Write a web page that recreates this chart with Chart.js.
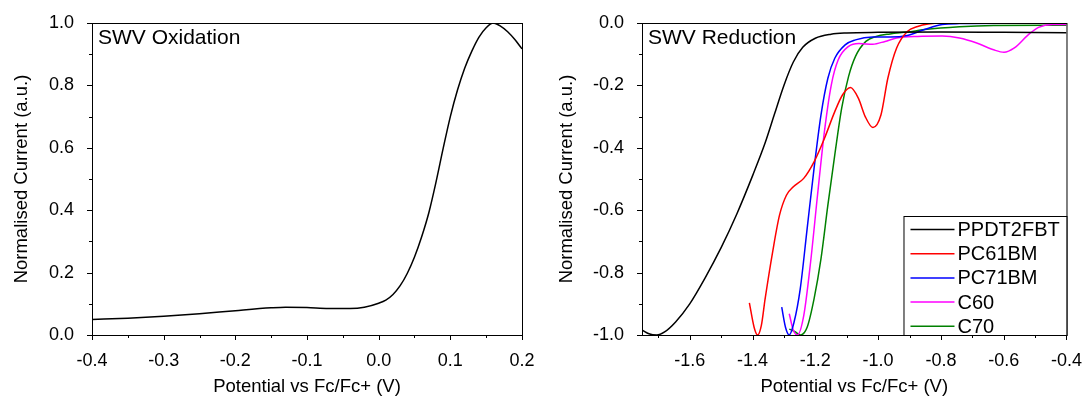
<!DOCTYPE html>
<html>
<head>
<meta charset="utf-8">
<script src="https://cdn.jsdelivr.net/npm/chart.js@4.4.1/dist/chart.umd.min.js"></script>
<style>
  html, body { margin: 0; padding: 0; background: #fff; }
  #wrap { position: relative; width: 1089px; height: 399px; }
  canvas { position: absolute; top: 0; }
  #oxChart { left: 0; }
  #redChart { left: 545px; }
</style>
</head>
<body>
<div id="wrap">
  <canvas id="oxChart" width="545" height="399"></canvas>
  <canvas id="redChart" width="544" height="399"></canvas>
</div>
<script>
// ---- oxidation (left panel) ----
const oxPotential = [-0.40, -0.35, -0.30, -0.25, -0.20, -0.15, -0.13, -0.10, -0.07, -0.04, -0.02, 0.00, 0.01, 0.02, 0.03, 0.04, 0.05, 0.06, 0.07, 0.08, 0.09, 0.10, 0.11, 0.12, 0.13, 0.14, 0.15, 0.16, 0.17, 0.18, 0.19, 0.20];
const oxCurrent = [0.050, 0.054, 0.060, 0.068, 0.078, 0.087, 0.089, 0.088, 0.085, 0.085, 0.089, 0.102, 0.112, 0.130, 0.158, 0.198, 0.250, 0.315, 0.392, 0.490, 0.598, 0.700, 0.785, 0.855, 0.910, 0.955, 0.985, 1.000, 0.990, 0.972, 0.947, 0.917];

// ---- reduction (right panel) ----
const ppdtPotential = [-1.75, -1.73, -1.705, -1.68, -1.645, -1.60, -1.55, -1.50, -1.45, -1.40, -1.36, -1.33, -1.30, -1.27, -1.24, -1.20, -1.15, -1.10, -1.00, -0.80, -0.60, -0.40];
const ppdtCurrent = [-0.985, -0.996, -1.0, -0.99, -0.958, -0.900, -0.815, -0.720, -0.612, -0.490, -0.385, -0.292, -0.200, -0.125, -0.078, -0.049, -0.036, -0.032, -0.030, -0.029, -0.030, -0.031];

const pc61Potential = [-1.41, -1.395, -1.384, -1.372, -1.36, -1.336, -1.314, -1.292, -1.27, -1.237, -1.204, -1.171, -1.138, -1.113, -1.088, -1.063, -1.041, -1.0165, -0.991, -0.969, -0.941, -0.907, -0.874, -0.841, -0.796, -0.70, -0.55, -0.40];
const pc61Current = [-0.897, -0.975, -1.0, -0.97, -0.885, -0.734, -0.616, -0.552, -0.525, -0.498, -0.445, -0.370, -0.284, -0.230, -0.207, -0.241, -0.300, -0.335, -0.295, -0.177, -0.080, -0.027, -0.011, -0.003, 0.0, -0.001, -0.001, -0.001];

const pc71Potential = [-1.307, -1.295, -1.283, -1.268, -1.248, -1.226, -1.204, -1.182, -1.160, -1.138, -1.105, -1.072, -1.017, -0.962, -0.907, -0.852, -0.796, -0.741, -0.60, -0.40];
const pc71Current = [-0.911, -0.975, -1.0, -0.96, -0.852, -0.659, -0.466, -0.295, -0.177, -0.113, -0.070, -0.054, -0.045, -0.045, -0.040, -0.021, -0.005, -0.002, -0.001, -0.001];

const c60Potential = [-1.283, -1.27, -1.257, -1.237, -1.215, -1.193, -1.171, -1.149, -1.127, -1.094, -1.061, -1.017, -0.978, -0.941, -0.874, -0.796, -0.741, -0.686, -0.632, -0.599, -0.566, -0.522, -0.489, -0.445, -0.40];
const c60Current = [-0.932, -0.985, -1.0, -0.939, -0.766, -0.552, -0.348, -0.198, -0.118, -0.075, -0.066, -0.068, -0.059, -0.048, -0.043, -0.042, -0.048, -0.064, -0.086, -0.094, -0.080, -0.038, -0.014, -0.005, -0.005];

const c70Potential = [-1.283, -1.265, -1.248, -1.226, -1.204, -1.182, -1.160, -1.138, -1.116, -1.094, -1.072, -1.039, -1.006, -0.962, -0.907, -0.852, -0.741, -0.632, -0.40];
const c70Current = [-0.981, -0.989, -1.0, -0.975, -0.884, -0.756, -0.584, -0.423, -0.273, -0.171, -0.107, -0.059, -0.043, -0.035, -0.029, -0.021, -0.012, -0.008, -0.007];

const seriesNames = ['PPDT2FBT', 'PC61BM', 'PC71BM', 'C60', 'C70'];
const seriesColors = ['#000000', '#ff0000', '#0000ff', '#ff00ff', '#008000'];

// tick values
const oxXTicks = [-0.4, -0.3, -0.2, -0.1, 0.0, 0.1, 0.2];
const oxXMinor = [-0.35, -0.25, -0.15, -0.05, 0.05, 0.15];
const oxYTicks = [0.0, 0.2, 0.4, 0.6, 0.8, 1.0];
const oxYMinor = [0.1, 0.3, 0.5, 0.7, 0.9];
const redXTicks = [-1.6, -1.4, -1.2, -1.0, -0.8, -0.6, -0.4];
const redXMinor = [-1.7, -1.5, -1.3, -1.1, -0.9, -0.7, -0.5];
const redYTicks = [-1.0, -0.8, -0.6, -0.4, -0.2, 0.0];
const redYMinor = [-0.9, -0.7, -0.5, -0.3, -0.1];

const FONT = "'Liberation Sans', Arial, sans-serif";

function toPoints(xs, ys) {
    return xs.map((x, i) => ({ x: x, y: ys[i] }));
}

// frame, tick marks, label inside the plot and optional legend
const framePlugin = {
    id: 'framePlugin',
    afterDatasetsDraw(chart, args, opts) {
        let ctx = chart.ctx;
        let a = chart.chartArea;
        let x = chart.scales.x;
        let y = chart.scales.y;
        ctx.save();
        ctx.strokeStyle = '#000';
        ctx.lineWidth = 1;
        ctx.strokeRect(a.left + 0.5, a.top + 0.5, a.right - a.left, a.bottom - a.top);

        ctx.beginPath();
        opts.xMajor.forEach(v => {
            let p = Math.round(x.getPixelForValue(v)) + 0.5;
            ctx.moveTo(p, a.bottom); ctx.lineTo(p, a.bottom + 5);
        });
        opts.xMinor.forEach(v => {
            let p = Math.round(x.getPixelForValue(v)) + 0.5;
            ctx.moveTo(p, a.bottom); ctx.lineTo(p, a.bottom + 3);
        });
        opts.yMajor.forEach(v => {
            let p = Math.round(y.getPixelForValue(v)) + 0.5;
            ctx.moveTo(a.left, p); ctx.lineTo(a.left - 5, p);
        });
        opts.yMinor.forEach(v => {
            let p = Math.round(y.getPixelForValue(v)) + 0.5;
            ctx.moveTo(a.left, p); ctx.lineTo(a.left - 3, p);
        });
        ctx.stroke();

        ctx.fillStyle = '#000';
        ctx.font = '21px ' + FONT;
        ctx.textBaseline = 'middle';
        ctx.textAlign = 'left';
        ctx.fillText(opts.label, a.left + 6, a.top + 15);

        if (opts.legend) {
            let left = a.right - 163;
            let top = a.top + 193;
            ctx.fillStyle = '#fff';
            ctx.fillRect(left, top, a.right - left, a.bottom - top);
            ctx.strokeRect(left + 0.5, top + 0.5, a.right - left, a.bottom - top);
            ctx.font = '20px ' + FONT;
            chart.data.datasets.forEach((ds, i) => {
                let ry = top + 13.5 + i * 24.2;
                ctx.strokeStyle = ds.borderColor;
                ctx.lineWidth = 1.5;
                ctx.beginPath();
                ctx.moveTo(left + 7, ry); ctx.lineTo(left + 51, ry);
                ctx.stroke();
                ctx.fillStyle = '#000';
                ctx.fillText(ds.label, left + 54, ry + 1);
            });
        }
        ctx.restore();
    }
};

function makeOptions(xMin, xMax, yMin, yMax, xTicks, yTicks, yWidth, rightPad, frameOpts) {
    return {
        responsive: false,
        animation: false,
        layout: { padding: { top: 23, right: rightPad, left: 0, bottom: 0 } },
        elements: { point: { radius: 0 }, line: { borderWidth: 1.5 } },
        plugins: {
            legend: { display: false },
            tooltip: { enabled: false },
            framePlugin: frameOpts
        },
        scales: {
            x: {
                type: 'linear',
                min: xMin,
                max: xMax,
                grid: { display: false },
                border: { display: false },
                afterBuildTicks: scale => { scale.ticks = xTicks.map(v => ({ value: v })); },
                afterFit: scale => { scale.height = 64; },
                ticks: {
                    color: '#000',
                    padding: 7,
                    maxRotation: 0,
                    autoSkip: false,
                    font: { family: FONT, size: 18 },
                    callback: v => v.toFixed(1)
                },
                title: {
                    display: true,
                    text: 'Potential vs Fc/Fc+ (V)',
                    color: '#000',
                    font: { family: FONT, size: 18.5 },
                    padding: { top: 0, bottom: 1 }
                }
            },
            y: {
                type: 'linear',
                min: yMin,
                max: yMax,
                grid: { display: false },
                border: { display: false },
                afterBuildTicks: scale => { scale.ticks = yTicks.map(v => ({ value: v })); },
                afterFit: scale => { scale.width = yWidth; },
                ticks: {
                    color: '#000',
                    padding: 10,
                    autoSkip: false,
                    font: { family: FONT, size: 18 },
                    callback: v => v.toFixed(1)
                },
                title: {
                    display: true,
                    text: 'Normalised Current (a.u.)',
                    color: '#000',
                    font: { family: FONT, size: 18.5 },
                    padding: { top: 11, bottom: 0 }
                }
            }
        }
    };
}

new Chart(document.getElementById('oxChart'), {
    type: 'line',
    data: {
        datasets: [{
            label: 'Oxidation',
            data: toPoints(oxPotential, oxCurrent),
            borderColor: '#000000',
            cubicInterpolationMode: 'monotone'
        }]
    },
    options: makeOptions(-0.4, 0.2, 0, 1, oxXTicks, oxYTicks, 92, 23, {
        xMajor: oxXTicks, xMinor: oxXMinor, yMajor: oxYTicks, yMinor: oxYMinor,
        label: 'SWV Oxidation', legend: false
    }),
    plugins: [framePlugin]
});

const redPotentials = [ppdtPotential, pc61Potential, pc71Potential, c60Potential, c70Potential];
const redCurrents = [ppdtCurrent, pc61Current, pc71Current, c60Current, c70Current];

new Chart(document.getElementById('redChart'), {
    type: 'line',
    data: {
        datasets: seriesNames.map((name, i) => ({
            label: name,
            data: toPoints(redPotentials[i], redCurrents[i]),
            borderColor: seriesColors[i],
            cubicInterpolationMode: 'monotone'
        }))
    },
    options: makeOptions(-1.752, -0.4, -1, 0, redXTicks, redYTicks, 97, 20, {
        xMajor: redXTicks, xMinor: redXMinor, yMajor: redYTicks, yMinor: redYMinor,
        label: 'SWV Reduction', legend: true
    }),
    plugins: [framePlugin]
});
</script>
</body>
</html>
